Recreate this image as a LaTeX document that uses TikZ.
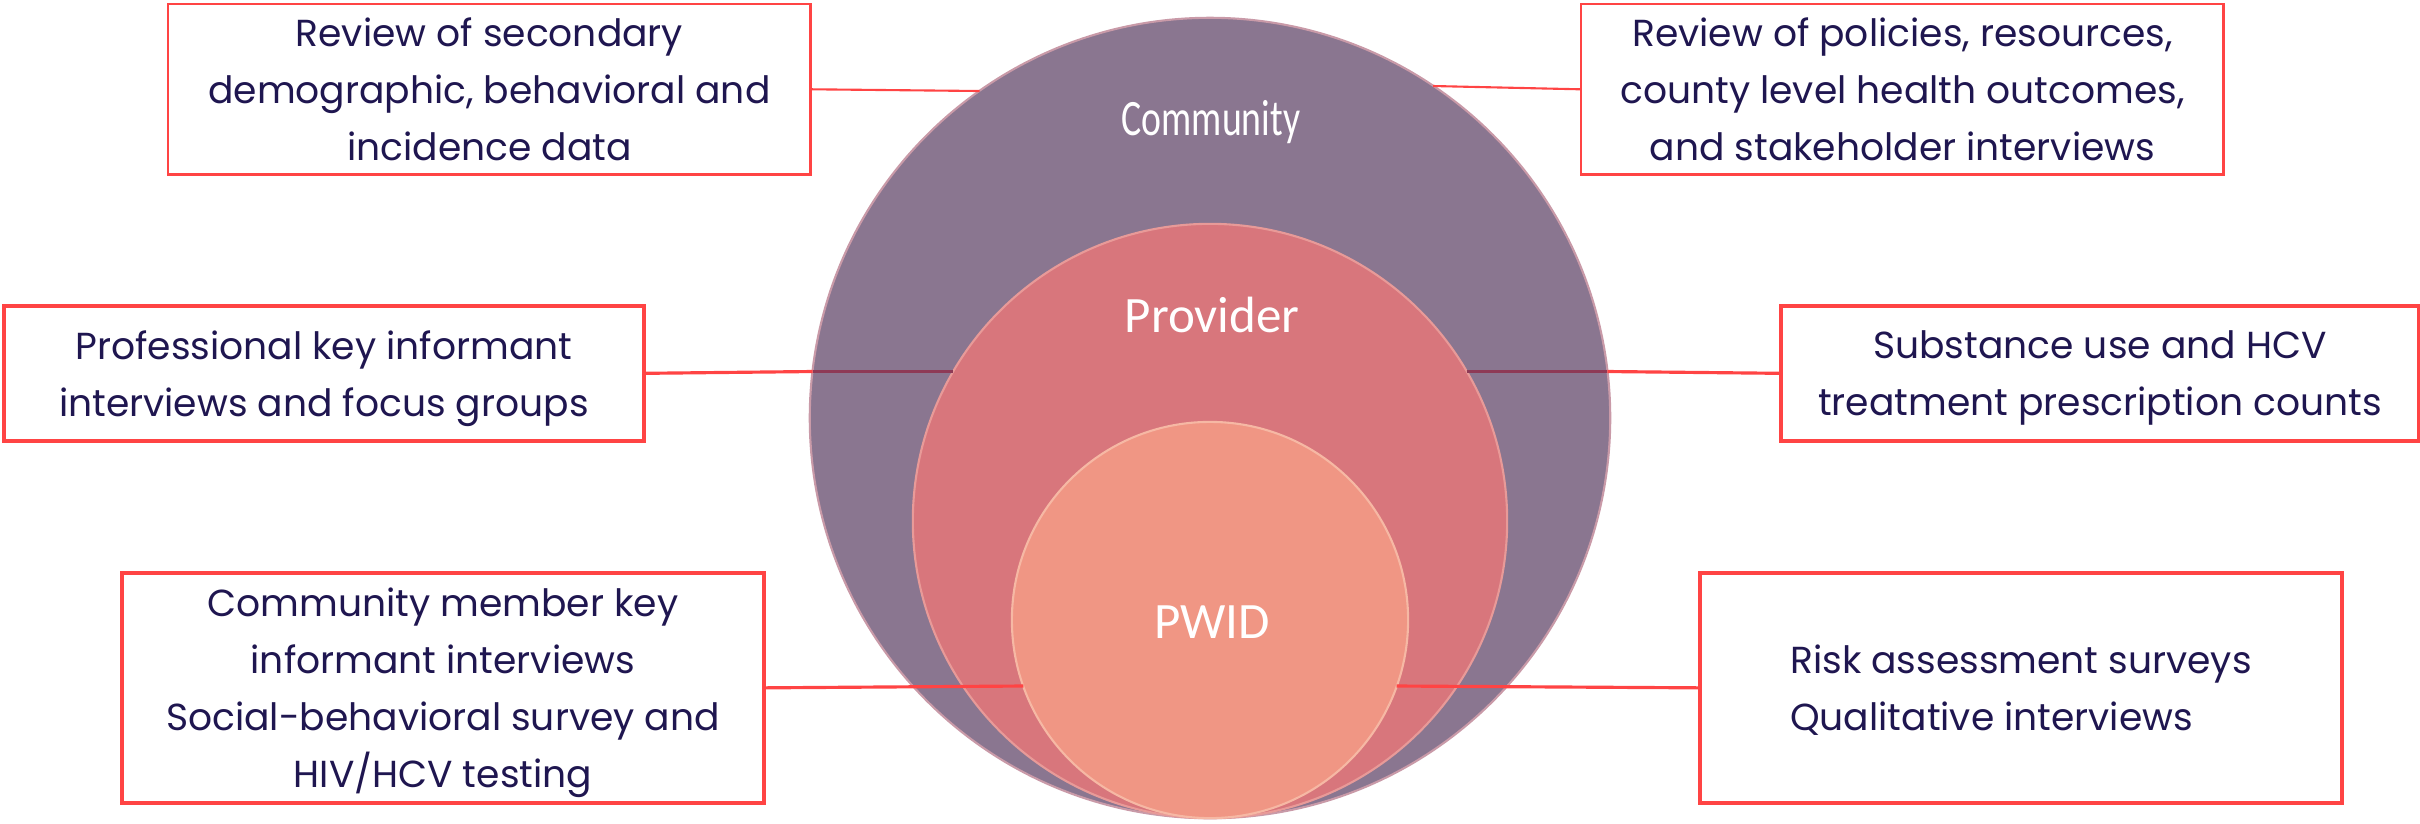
\documentclass[tikz,border=0pt]{standalone}
\usepackage{fontspec}
\usetikzlibrary{calc}
\setmainfont{Poppins}
\newfontfamily\labfont{Carlito}
\newfontfamily\commfont[FakeStretch=0.74]{Carlito}
\definecolor{comm}{HTML}{8A7690}
\definecolor{commrim}{HTML}{C99AA8}
\definecolor{prov}{HTML}{D8767C}
\definecolor{provrim}{HTML}{E89A98}
\definecolor{pwid}{HTML}{F09684}
\definecolor{pwidrim}{HTML}{F6B8A4}
\definecolor{boxred}{HTML}{FF4444}
\definecolor{ink}{HTML}{1F1650}
\definecolor{darkline}{HTML}{8E3A56}
\begin{document}
\begin{tikzpicture}[x=0.01cm,y=-0.01cm,
  infobox/.style={draw=boxred, line width=1pt, fill=white, inner sep=0pt,
    anchor=north west, align=center, text=ink, text depth=-0.05cm,
    font=\fontsize{10.7}{16.2}\selectfont},
  ring/.style={circle, inner sep=0pt, outer sep=0pt},
  conn/.style={draw=boxred, line width=0.9pt},
  ringlab/.style={text=white, anchor=base, font=\labfont\fontsize{14.5}{16}\selectfont}
]
\useasboundingbox (0,0) rectangle (2420,823);

% nested circles
\node[ring, fill=comm, draw=commrim, line width=0.6pt, minimum size=8cm] (comm) at (1210,418) {};
\node[ring, fill=prov, draw=provrim, line width=0.6pt, minimum size=5.94cm] (prov) at (1210,521) {};
\node[ring, fill=pwid, draw=pwidrim, line width=0.6pt, minimum size=3.96cm] (pwid) at (1210,620) {};

\node[ringlab, font=\commfont\fontsize{14.5}{16}\selectfont] (commlab) at (1211,135) {Community};
\node[ringlab] (provlab) at (1212,332) {Provider};
\node[ringlab] (pwidlab) at (1212,638) {PWID};

% boxes
\node[infobox, line width=0.7pt, minimum width=6.42cm, minimum height=1.70cm] (tl) at (167,3)
  {Review of secondary\\demographic, behavioral and\\incidence data};
\node[infobox, line width=0.7pt, minimum width=6.42cm, minimum height=1.70cm] (tr) at (1580,3)
  {Review of policies, resources,\\county level health outcomes,\\and stakeholder interviews};
\node[infobox, minimum width=6.40cm, minimum height=1.35cm] (ml) at (2,304)
  {Professional key informant\\interviews and focus groups};
\node[infobox, minimum width=6.38cm, minimum height=1.35cm] (mr) at (1779,304)
  {Substance use and HCV\\treatment prescription counts};
\node[infobox, minimum width=6.42cm, minimum height=2.30cm] (bl) at (120,571)
  {Community member key\\informant interviews\\Social-behavioral survey and\\HIV/HCV testing};
\node[infobox, minimum width=6.42cm, minimum height=2.30cm, align=left] (br) at (1698,571)
  {Risk assessment surveys\\Qualitative interviews};

% points where the connectors meet the circles
\coordinate (cTL) at ($(comm.center)+(-230.4,-327)$);
\coordinate (cTR) at ($(comm.center)+(223,-332)$);
\coordinate (cML) at ($(comm.center)+(-397.3,-46.5)$);
\coordinate (pML) at ($(prov.center)+(-256.6,-149.5)$);
\coordinate (cMR) at ($(comm.center)+(397.3,-46.5)$);
\coordinate (pMR) at ($(prov.center)+(256.6,-149.5)$);
\coordinate (wBL) at ($(pwid.center)+(-186.7,66)$);
\coordinate (wBR) at ($(pwid.center)+(186.7,66)$);

% connectors
\draw[conn, line width=0.6pt] (tl.east) -- (cTL);
\draw[conn, line width=0.6pt] (cTR) -- (tr.west);
\draw[conn] (ml.east) -- (cML);
\draw[conn, draw=darkline] (cML) -- (pML);
\draw[conn, draw=darkline] (pMR) -- (cMR);
\draw[conn] (cMR) -- (mr.west);
\draw[conn] (bl.east) -- (wBL);
\draw[conn] (wBR) -- (br.west);
\end{tikzpicture}
\end{document}
